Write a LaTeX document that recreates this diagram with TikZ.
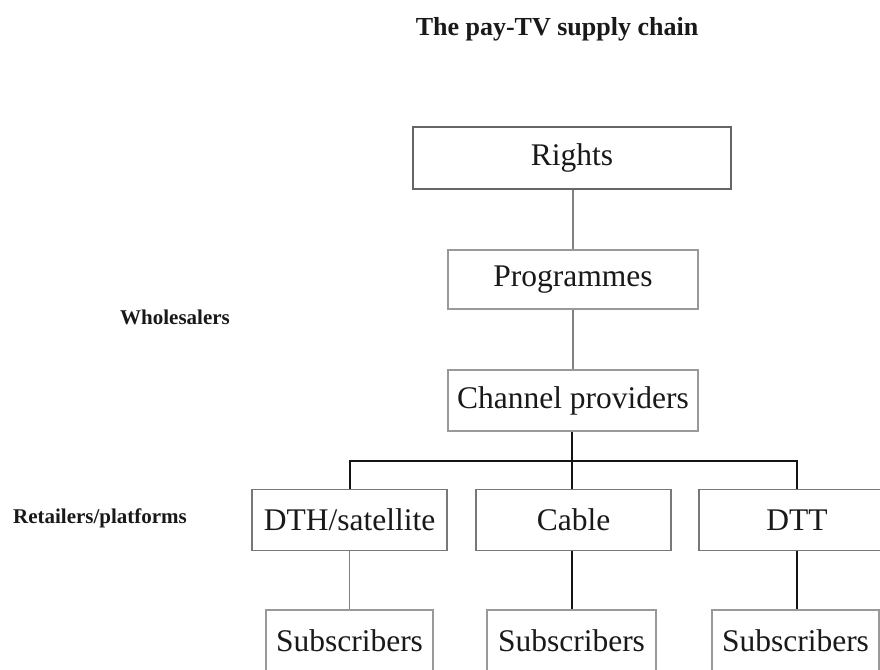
\documentclass[tikz,border=0pt]{standalone}
\usepackage{fontspec}
\setmainfont{Liberation Serif}
\definecolor{boxgray}{RGB}{120,120,120}
\definecolor{linegray}{RGB}{130,130,130}
\definecolor{darkline}{RGB}{20,20,20}
\begin{document}
\begin{tikzpicture}[x=1pt,y=-1pt,
  box/.style={draw=boxgray,line width=1.4pt,rectangle,inner sep=0pt,
    font=\fontsize{31.5}{34}\selectfont,text=black!90},
  lbl/.style={font=\bfseries\fontsize{21}{24}\selectfont,text=black!90},
  ttl/.style={font=\bfseries\fontsize{26}{29}\selectfont,text=black!90},
  gline/.style={draw=linegray,line width=1.4pt},
  bline/.style={draw=darkline,line width=2pt}]
\useasboundingbox (0,0) rectangle (880,669);
\clip (0,0) rectangle (880,669);
\fill[white] (0,0) rectangle (880,669);
% title and side labels
\node[ttl] (title) at (557,29) {The pay-TV supply chain};
\node[lbl] (whole) at (175,317) {Wholesalers};
\node[lbl] (retail) at (100,518) {Retailers/platforms};
% chain boxes
\node[box,draw=black!60,minimum width=318pt,minimum height=62pt] (rights) at (572,158) {Rights};
\node[box,draw=black!40,minimum width=250pt,minimum height=59pt] (prog) at (573,279.5) {Programmes};
\node[box,draw=black!40,minimum width=250pt,minimum height=61pt] (chan) at (573,400.5) {Channel providers};
% platforms
\node[box,minimum width=195pt,minimum height=61pt] (dth) at (349.5,520) {DTH/satellite};
\node[box,minimum width=195pt,minimum height=61pt] (cable) at (573.5,520) {Cable};
\node[box,minimum width=196pt,minimum height=61pt] (dtt) at (797,520) {DTT};
% subscribers
\node[box,draw=black!40,minimum width=167pt,minimum height=62pt] (s1) at (349.5,641) {Subscribers};
\node[box,draw=black!40,minimum width=169pt,minimum height=62pt] (s2) at (571.5,641) {Subscribers};
\node[box,draw=black!40,minimum width=167pt,minimum height=62pt] (s3) at (795.5,641) {Subscribers};
% connectors
\coordinate (bar) at (572,461);
\draw[gline] (rights.south -| 573,0) -- (prog.north -| 573,0);
\draw[gline] (prog.south -| 573,0) -- (chan.north -| 573,0);
\draw[bline] (chan.south -| bar) -- (bar);
\draw[bline] (dth.north) |- (bar) -| (dtt.north);
\draw[bline] (bar) -- (cable.north -| bar);
\draw[gline] (dth.south) -- (s1.north -| dth.south);
\draw[bline] (cable.south -| bar) -- (s2.north -| bar);
\draw[bline] (dtt.south) -- (s3.north -| dtt.south);
\end{tikzpicture}
\end{document}
